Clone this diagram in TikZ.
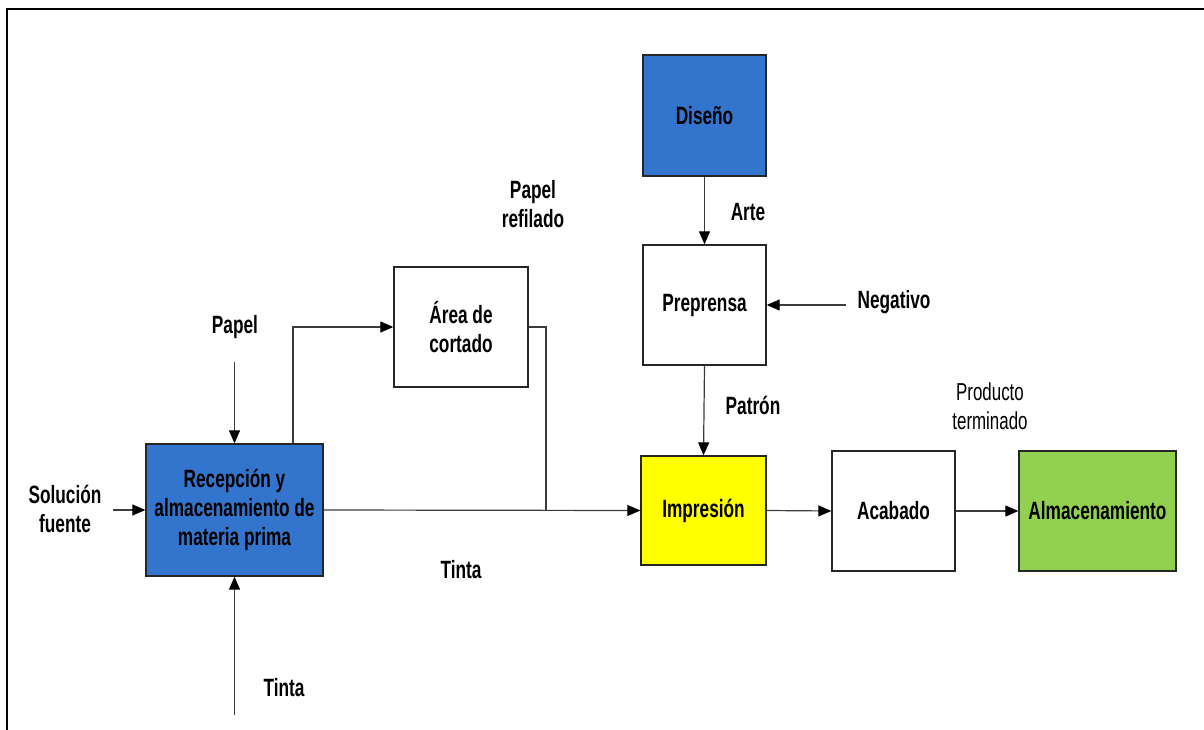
\documentclass[tikz,border=0pt]{standalone}
\usepackage{fontspec}
\setmainfont{Liberation Sans}[FakeStretch=0.69]
\usetikzlibrary{arrows.meta}
\definecolor{boxblue}{RGB}{51,116,204}
\definecolor{boxgreen}{RGB}{146,208,80}
\definecolor{boxyellow}{RGB}{255,255,0}
\definecolor{linegray}{RGB}{60,60,60}
\begin{document}
\begin{tikzpicture}[x=1pt,y=-1pt,
  proc/.style={draw=black!85,line width=1.3pt,minimum width=#1,inner sep=0pt,
    align=center,font=\fontsize{25}{29}\selectfont\bfseries},
  lbl/.style={align=center,font=\fontsize{25}{29}\selectfont\bfseries},
  plainlbl/.style={align=center,font=\fontsize{24.5}{29}\selectfont},
  flow/.style={draw=linegray,line width=1.2pt,
    -{Triangle[length=13pt,width=11pt,fill=black,color=black]}},
  link/.style={draw=linegray,line width=1.2pt}]
\useasboundingbox (0,0) rectangle (1204,730);
% frame
\draw[line width=2pt] (7,730) -- (7,9.5) -- (1204,9.5);

% process boxes
\node[proc=177pt,minimum height=132pt,fill=boxblue] (rec) at (234.5,510)
  {Recepción y\\almacenamiento de\\materia prima};
\node[proc=134pt,minimum height=120pt,fill=white] (area) at (461,327) {Área de\\cortado};
\node[proc=123pt,minimum height=121pt,fill=boxblue] (dis) at (704.5,115.5) {Diseño};
\node[proc=123pt,minimum height=120pt,fill=white] (prep) at (704.5,305) {Preprensa};
\node[proc=125pt,minimum height=109pt,fill=boxyellow] (imp) at (703.5,510.5) {Impresión};
\node[proc=123pt,minimum height=120pt,fill=white] (acab) at (893.5,511) {Acabado};
\node[proc=157pt,minimum height=120pt,fill=boxgreen] (alm) at (1097.5,511) {Almacenamiento};

% free ends of the input arrows
\coordinate (papelin) at (234.5,362);
\coordinate (tintain) at (234.5,715);
\coordinate (solin) at (113,510);
\coordinate (negin) at (846,305);
\coordinate (tap) at (293,0);
\coordinate (drop) at (546,0);

% labels
\node[lbl] (lpapel) at (235,327) {Papel};
\node[lbl] (ltinta) at (284,688) {Tinta};
\node[lbl] (lsol) at (65,509) {Solución\\fuente};
\node[lbl] (lref) at (533,204) {Papel\\refilado};
\node[lbl] (ltinta2) at (461,570) {Tinta};
\node[lbl] (larte) at (748,212) {Arte};
\node[lbl] (lneg) at (894,302) {Negativo};
\node[lbl] (lpat) at (753,405) {Patrón};
\node[plainlbl] (lprod) at (990,406) {Producto\\terminado};

% connectors
\draw[flow] (papelin) -- (rec.north);
\draw[flow] (tintain) -- (rec.south);
\draw[flow] (solin) -- (rec.west);
\draw[flow] (rec.north -| tap) |- (area.west);
\draw[link] (area.east) -| (drop |- imp.west);
\draw[flow] (rec.east) -- (imp.west);
\draw[flow] (dis.south) -- (prep.north);
\draw[flow] (negin) -- (prep.east);
\draw[flow] (prep.south) -- (imp.north);
\draw[flow] (imp.east) -- (acab.west);
\draw[flow] (acab.east) -- (alm.west);
\end{tikzpicture}
\end{document}
